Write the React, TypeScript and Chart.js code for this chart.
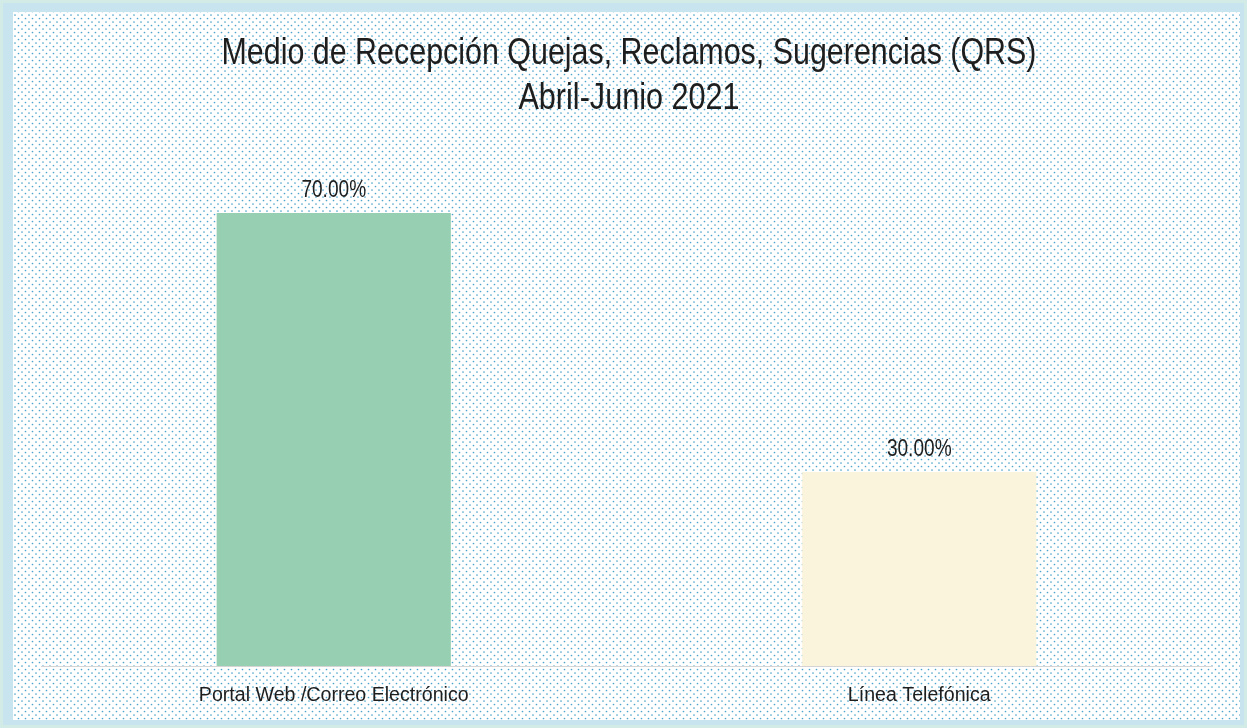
import React, { useEffect, useRef } from "react";
import { Chart, registerables } from "chart.js";

Chart.register(...registerables);

const categories = ["Portal Web /Correo Electrónico", "Línea Telefónica"];
const values = [70, 30];
const valueLabels = ["70.00%", "30.00%"];
const barColors = ["#97cfb2", "#fbf4dc"];
const titleLines = ["Medio de Recepción Quejas, Reclamos, Sugerencias (QRS)", "Abril-Junio 2021"];

const FONT = "'Liberation Sans', Arial, sans-serif";

function makePattern(ctx: CanvasRenderingContext2D) {
  const c = document.createElement("canvas");
  c.width = 7;
  c.height = 7;
  const p = c.getContext("2d")!;
  p.fillStyle = "#ffffff";
  p.fillRect(0, 0, 7, 7);
  p.fillStyle = "#4ea5cb";
  p.beginPath();
  p.arc(1, 1, 0.85, 0, Math.PI * 2);
  p.fill();
  p.beginPath();
  p.arc(4.5, 4.5, 0.85, 0, Math.PI * 2);
  p.fill();
  return ctx.createPattern(c, "repeat")!;
}

function condensed(ctx: CanvasRenderingContext2D, text: string, x: number, y: number, size: number, ratio: number) {
  ctx.font = `${size}px ${FONT}`;
  const w = ctx.measureText(text).width * ratio;
  ctx.fillText(text, x, y, w);
}

const bgPlugin = {
  id: "bgPlugin",
  beforeDraw(chart: any) {
    const { ctx, width, height } = chart;
    ctx.save();
    ctx.fillStyle = "#d3ebe6";
    ctx.fillRect(0, 0, width, height);
    ctx.fillStyle = "#c8e4ee";
    ctx.fillRect(3, 3, width - 6, height - 6);
    ctx.fillStyle = makePattern(ctx);
    ctx.fillRect(13, 12, width - 20, height - 20);
    ctx.restore();
  },
  afterDatasetsDraw(chart: any) {
    const { ctx } = chart;
    ctx.save();
    ctx.fillStyle = "#1e1e1e";
    ctx.textAlign = "center";
    ctx.textBaseline = "alphabetic";
    condensed(ctx, titleLines[0], 629, 64, 36, 0.845);
    condensed(ctx, titleLines[1], 629, 109, 36, 0.85);
    const meta = chart.getDatasetMeta(0);
    meta.data.forEach((bar: any, i: number) => {
      condensed(ctx, valueLabels[i], bar.x, bar.y - 16, 23, 0.83);
    });
    const xs = chart.scales.x;
    categories.forEach((lab, i) => {
      condensed(ctx, lab, xs.getPixelForValue(i), xs.bottom + 35, 20, 0.98);
    });
    ctx.restore();
  },
};

export default function App() {
  const ref = useRef<HTMLCanvasElement>(null);
  useEffect(() => {
    document.body.style.margin = "0";
    const chart = new Chart(ref.current!, {
      type: "bar",
      data: {
        labels: categories,
        datasets: [
          {
            data: values,
            backgroundColor: barColors,
            borderWidth: 0,
            barPercentage: 0.4,
            categoryPercentage: 1,
          },
        ],
      },
      options: {
        animation: false,
        responsive: false,
        layout: { padding: { top: 19, left: 41, right: 35, bottom: 62 } },
        plugins: { legend: { display: false }, tooltip: { enabled: false }, title: { display: false } },
        scales: {
          x: {
            grid: { display: false, drawTicks: false },
            border: { display: true, color: "#d4d4d4", width: 1 },
            ticks: { display: false },
          },
          y: {
            display: false,
            min: 0,
            max: 100,
          },
        },
      },
      plugins: [bgPlugin],
    });
    return () => chart.destroy();
  }, []);
  return (
    <div style={{ position: "absolute", left: 0, top: 0, width: 1247, height: 728 }}>
      <canvas ref={ref} width={1247} height={728} style={{ width: 1247, height: 728 }} />
    </div>
  );
}
